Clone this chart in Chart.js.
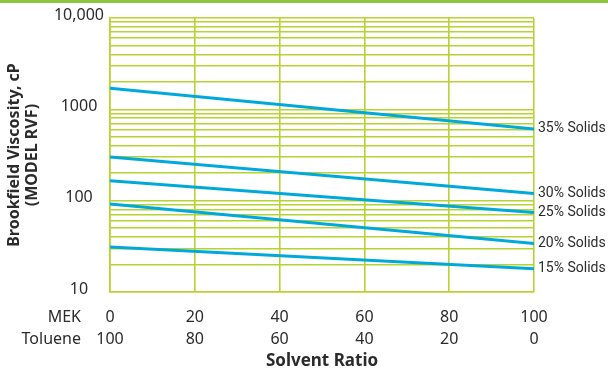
<!DOCTYPE html>
<html>
<head>
<meta charset="utf-8">
<script src="https://cdn.jsdelivr.net/npm/chart.js@4/dist/chart.umd.min.js"></script>
<style>
  html, body { margin: 0; padding: 0; background: #fff; }
  #wrap { width: 608px; height: 372px; position: relative; }
</style>
</head>
<body>
<div id="wrap"><canvas id="c" width="608" height="372"></canvas></div>
<script>
// ---- data ----
const ratioMEK = [0, 100];                 // x positions of each series' points (MEK %)
const mekTicks = [0, 20, 40, 60, 80, 100];
const tolueneTicks = [100, 80, 60, 40, 20, 0];
const yGridValues = [10,20,30,40,50,60,70,80,90,100,200,300,400,500,600,700,800,900,1000,2000,3000,4000,5000,6000,7000,8000,9000,10000];
const yTickLabels = { 10: '10', 100: '100', 1000: '1000', 10000: '10,000' };
const seriesNames = ['35% Solids', '30% Solids', '25% Solids', '20% Solids', '15% Solids'];
const solids35 = [1700, 610];
const solids30 = [300, 120];
const solids25 = [165, 74];
const solids20 = [92, 34];
const solids15 = [31, 18];
const seriesValues = [solids35, solids30, solids25, solids20, solids15];

const GRID = '#b6d332';
const LINE = '#00a9d9';
const TEXT = '#2b2b2b';
const FONT = '"Noto Sans", "DejaVu Sans", sans-serif';

const datasets = seriesValues.map((vals, i) => ({
  label: seriesNames[i],
  data: vals.map((v, j) => ({ x: ratioMEK[j], y: v })),
  borderColor: LINE,
  borderWidth: 3,
  pointRadius: 0,
  fill: false,
  tension: 0
}));

const decor = {
  id: 'decor',
  beforeDraw(chart) {
    const ctx = chart.ctx;
    ctx.save();
    ctx.fillStyle = '#ffffff';
    ctx.fillRect(0, 0, chart.width, chart.height);
    ctx.fillStyle = '#8cc63f';
    ctx.fillRect(0, 0, chart.width, 3);
    ctx.restore();
  },
  afterDraw(chart) {
    const ctx = chart.ctx;
    const xs = chart.scales.x, ys = chart.scales.y;
    ctx.save();
    // series labels at line ends
    ctx.font = '14px Roboto, "Noto Sans", sans-serif';
    ctx.fillStyle = TEXT;
    ctx.textAlign = 'left';
    ctx.textBaseline = 'middle';
    seriesValues.forEach((vals, i) => {
      const px = xs.getPixelForValue(ratioMEK[ratioMEK.length - 1]);
      const py = ys.getPixelForValue(vals[vals.length - 1]);
      ctx.fillText(seriesNames[i], px + 4, py);
    });
    // row labels for x ticks
    ctx.font = '16px ' + FONT;
    ctx.textAlign = 'right';
    const lh = 22;
    const y0 = xs.top + 14 + lh / 2;
    ctx.fillText('MEK', 81, y0);
    ctx.fillText('Toluene', 81, y0 + lh);
    ctx.restore();
  }
};

new Chart(document.getElementById('c'), {
  type: 'line',
  data: { datasets },
  plugins: [decor],
  options: {
    responsive: false,
    animation: false,
    layout: { padding: { left: 0, right: 74, top: 18, bottom: 0 } },
    plugins: { legend: { display: false }, tooltip: { enabled: false } },
    scales: {
      x: {
        type: 'linear',
        min: 0, max: 100,
        afterBuildTicks(scale) { scale.ticks = mekTicks.map(v => ({ value: v })); },
        afterFit(scale) { scale.height = 80; },
        grid: { color: GRID, lineWidth: 1.6, drawTicks: false },
        border: { color: GRID, width: 1.6 },
        ticks: {
          autoSkip: false,
          maxRotation: 0,
          padding: 14,
          color: TEXT,
          font: { family: FONT, size: 16, lineHeight: 1.375 },
          callback(v) {
            const i = mekTicks.indexOf(v);
            return i < 0 ? '' : [String(mekTicks[i]), String(tolueneTicks[i])];
          }
        },
        title: {
          display: true,
          text: 'Solvent Ratio',
          color: TEXT,
          font: { family: FONT, size: 17, weight: 'bold', lineHeight: 1.1 },
          padding: { top: 0, bottom: 1 }
        }
      },
      y: {
        type: 'logarithmic',
        min: 10, max: 10000,
        afterBuildTicks(scale) { scale.ticks = yGridValues.map(v => ({ value: v })); },
        afterFit(scale) { scale.width = 110; },
        grid: { color: GRID, lineWidth: 1.6, drawTicks: false },
        border: { color: GRID, width: 1.6 },
        ticks: {
          autoSkip: false,
          crossAlign: 'center',
          padding: 6,
          labelOffset: -3,
          color: TEXT,
          font: { family: FONT, size: 16 },
          callback(v) { return yTickLabels[v] || ''; }
        },
        title: {
          display: true,
          text: ['Brookfield Viscosity, cP', '(MODEL RVF)'],
          color: TEXT,
          font: { family: FONT, size: 16, weight: 'bold', lineHeight: 1.15 },
          padding: { top: 5, bottom: 0 }
        }
      }
    }
  }
});
</script>
</body>
</html>
